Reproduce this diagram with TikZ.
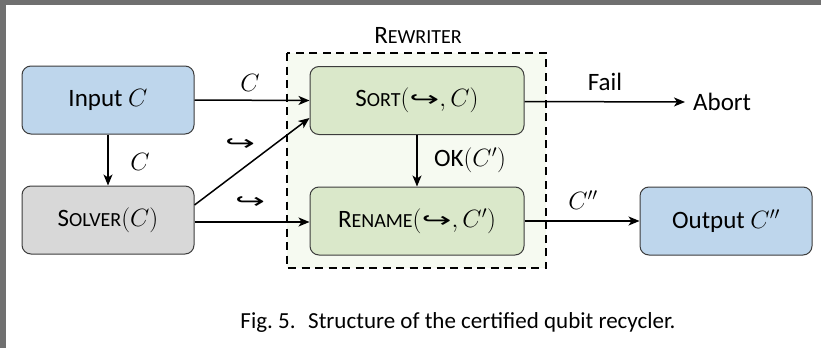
\RequirePackage{fix-cm}
\documentclass[tikz,border=0pt]{standalone}
\usepackage{fontspec}
\setmainfont{Carlito}
\newfontfamily\arrowfont{DejaVu Sans}
\usetikzlibrary{arrows.meta}
\definecolor{boxblue}{RGB}{190,214,236}
\definecolor{boxgreen}{RGB}{218,232,202}
\definecolor{boxgray}{RGB}{216,216,216}
\definecolor{rwfill}{RGB}{246,250,241}
\definecolor{framegray}{RGB}{112,112,112}
\definecolor{edgegray}{RGB}{60,60,60}
\newcommand\mysc[2]{#1{\fontsize{20}{21}\selectfont #2}}
\newcommand\hookarr{\mbox{\arrowfont\fontsize{21}{22}\selectfont\scalebox{1.7}[1]{↪}}}
\tikzset{
  txt/.style={font=\fontsize{25}{28}\selectfont, inner sep=0pt},
  blockbox/.style={txt, draw=edgegray, line width=1pt, rounded corners=9pt,
     minimum width=172pt, minimum height=68pt},
  sortbox/.style={blockbox, fill=boxgreen, minimum width=214pt},
  conn/.style={line width=1.5pt, -{Stealth[length=11pt,width=9pt,inset=3pt]}},
}
\begin{document}
\begin{tikzpicture}[x=1pt,y=-1pt]
\useasboundingbox (0,0) rectangle (821,348);
\fill[framegray] (0,0) rectangle (821,348);
\fill[white] (6,5) rectangle (821,348);
% rewriter region
\draw[fill=rwfill, line width=1.6pt, dash pattern=on 8pt off 5.5pt] (287,53) rectangle (546,268);
\node[txt] (rw) at (418,35) {\mysc{R}{EWRITER}};
% boxes
\node[blockbox, fill=boxblue] (input) at (108,100) {Input $C$};
\node[blockbox, fill=boxgray] (solver) at (108,220) {\mysc{S}{OLVER}$(C)$};
\node[sortbox] (sort) at (417,100.5) {\mysc{S}{ORT}$($\hookarr$,C)$};
\node[sortbox] (rename) at (417,221) {\mysc{R}{ENAME}$($\hookarr$,C')$};
\node[blockbox, fill=boxblue] (output) at (726,221) {Output $C''$};
\node[txt, anchor=west] (abort) at (693,102) {Abort};
% connectors
\draw[conn] (input) -- (solver);
\draw[conn] (input.east) -- (sort.west);
\draw[conn] ([yshift=15pt]solver.east) -- ([yshift=-17.5pt]sort.west);
\draw[conn] ([yshift=-2pt]solver.east) -- ([yshift=-1pt]rename.west);
\draw[conn] (sort) -- (rename);
\draw[conn] ([yshift=-1pt]sort.east) -- ([xshift=-8pt]abort.west);
\draw[conn] (rename.east) -- (output.west);
% labels
\node[txt] (lc1) at (250,83) {$C$};
\node[txt] (lc2) at (140,162) {$C$};
\node[txt] (lh1) at (240,145) {\hookarr};
\node[txt] (lh2) at (250,203) {\hookarr};
\node[txt] (lok) at (470,160) {OK$(C')$};
\node[txt] (lfail) at (605,82) {Fail};
\node[txt] (lcpp) at (583,200) {$C''$};
\node[txt, font=\fontsize{23}{26}\selectfont] (cap) at (458,322) {Fig.~5.\hspace{0.55em}Structure of the certified qubit recycler.};
\end{tikzpicture}
\end{document}
